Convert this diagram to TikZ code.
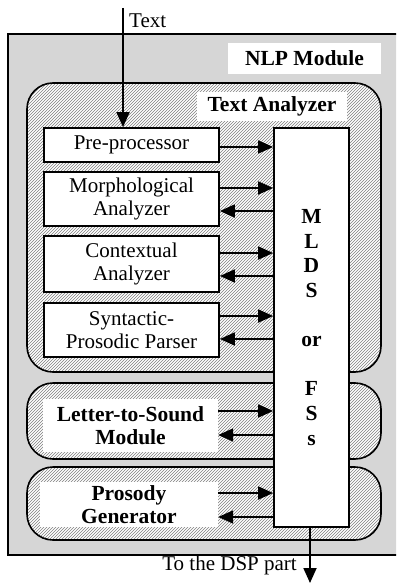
\documentclass[tikz,border=0pt]{standalone}
\usepackage{fontspec}
\setmainfont{Liberation Serif}
\usetikzlibrary{arrows.meta,patterns}
\begin{document}
\begin{tikzpicture}[x=1pt,y=-1pt,
  font=\fontsize{21}{23.5}\selectfont,
  arr/.style={line width=1.8pt,-{Triangle[length=15pt,width=13pt]}},
  outerbox/.style={draw,line width=1.3pt,fill=black!16},
  group/.style={draw,line width=1.6pt,rounded corners=26pt,preaction={fill=white},pattern=north east lines,pattern color=black!50},
  modbox/.style={draw,line width=1.7pt,fill=white,minimum width=175pt,inner sep=0pt,align=center},
  label/.style={fill=white,inner sep=0pt,align=center,font=\fontsize{21.5}{23.5}\selectfont\bfseries},
  mlds/.style={draw,line width=1.7pt,fill=white,minimum width=75pt,minimum height=399pt,inner sep=0pt,align=center,font=\fontsize{21.5}{24.6}\selectfont\bfseries}
]
\useasboundingbox (0,0) rectangle (396,583);
\begin{scope}
\clip (0,0) rectangle (396,583);
\draw[outerbox] (8,34) rectangle (420,555);
\end{scope}
\draw[group] (27,83) rectangle (381,372);
\draw[group] (27,383) rectangle (381,459);
\draw[group] (27,467) rectangle (381,540);

\node[label,minimum width=153pt,minimum height=31pt] (nlp) at (304.5,58.5) {NLP Module};
\node[label,minimum width=150pt,minimum height=29pt] (ta) at (272,106.5) {Text Analyzer};

\node[modbox,minimum height=34pt] (pre) at (131.5,145) {Pre-processor};
\node[modbox,minimum height=54pt] (mor) at (131.5,199) {Morphological\\Analyzer};
\node[modbox,minimum height=56pt] (con) at (131.5,264) {Contextual\\Analyzer};
\node[modbox,minimum height=54pt] (syn) at (131.5,330) {Syntactic-\\Prosodic Parser};
\node[label,minimum width=175pt,minimum height=53pt] (lts) at (130.5,425.5) {Letter-to-Sound\\Module};
\node[label,minimum width=178pt,minimum height=45pt] (pro) at (129,504.5) {Prosody\\Generator};

\node[mlds] (m) at (311.5,327.5) {M\\L\\D\\S\\[24.6pt]or\\[24.6pt]F\\S\\s};

\coordinate (in) at (123,8);
\draw[arr] (in) -- (in |- pre.north);
\node[anchor=west,inner sep=0pt] (txt) at (129,21) {Text};

\coordinate (out) at (310,583);
\draw[arr] (m.south -| out) -- (out);
\node[anchor=east,inner sep=0pt] (dsp) at (297,565) {To the DSP part};

\draw[arr] ([yshift=-2pt]pre.east) -- ([yshift=-2pt]pre.east -| m.west);
\draw[arr] ([yshift=11pt]mor.east) -- ([yshift=11pt]mor.east -| m.west);
\draw[arr] ([yshift=-12pt]mor.east -| m.west) -- ([yshift=-12pt]mor.east);
\draw[arr] ([yshift=11pt]con.east) -- ([yshift=11pt]con.east -| m.west);
\draw[arr] ([yshift=-12pt]con.east -| m.west) -- ([yshift=-12pt]con.east);
\draw[arr] ([yshift=14pt]syn.east) -- ([yshift=14pt]syn.east -| m.west);
\draw[arr] ([yshift=-9pt]syn.east -| m.west) -- ([yshift=-9pt]syn.east);
\draw[arr] ([yshift=14.5pt]lts.east) -- ([yshift=14.5pt]lts.east -| m.west);
\draw[arr] ([yshift=-9.5pt]lts.east -| m.west) -- ([yshift=-9.5pt]lts.east);
\draw[arr] ([yshift=11.5pt]pro.east) -- ([yshift=11.5pt]pro.east -| m.west);
\draw[arr] ([yshift=-12.5pt]pro.east -| m.west) -- ([yshift=-12.5pt]pro.east);
\end{tikzpicture}
\end{document}
